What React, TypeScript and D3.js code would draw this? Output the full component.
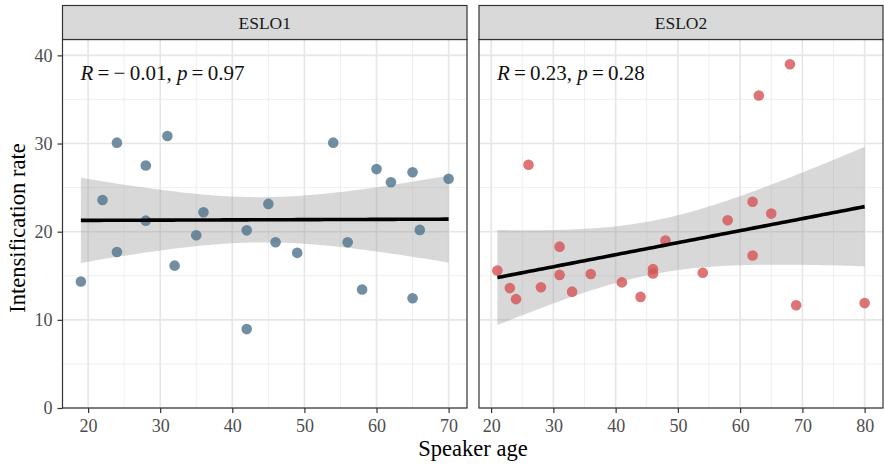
import React, { useEffect, useRef } from "react";
import * as d3 from "d3";

// ESLO1 speakers: age and intensification rate
const eslo1Age = [19, 22, 24, 24, 28, 28, 31, 32, 35, 36, 42, 42, 45, 46, 49, 54, 56, 58, 60, 62, 65, 65, 66, 70];
const eslo1Rate = [14.35, 23.6, 30.1, 17.7, 27.5, 21.25, 30.85, 16.15, 19.6, 22.2, 20.15, 8.95, 23.15, 18.8, 17.6, 30.1, 18.8, 13.45, 27.1, 25.6, 26.75, 12.45, 20.2, 26.0];

// ESLO2 speakers
const eslo2Age = [21, 23, 24, 26, 28, 31, 31, 33, 36, 41, 44, 46, 46, 48, 54, 58, 62, 62, 63, 65, 68, 69, 80];
const eslo2Rate = [15.6, 13.6, 12.35, 27.6, 13.7, 18.3, 15.1, 13.2, 15.2, 14.25, 12.6, 15.75, 15.25, 19.0, 15.35, 21.3, 23.4, 17.3, 35.45, 22.05, 39.0, 11.65, 11.9];

const panels = ["ESLO1", "ESLO2"];
const rLabels = ["\u2009=\u2009\u2212\u20090.01, ", "\u2009=\u20090.23, "];
const pLabels = ["\u2009=\u20090.97", "\u2009=\u20090.28"];
const xTicks = [[20, 30, 40, 50, 60, 70], [20, 30, 40, 50, 60, 70, 80]];
const yTicks = [0, 10, 20, 30, 40];

const serif = "'Liberation Serif', 'Times New Roman', serif";

function tq975(df: number) {
  const z = 1.959964;
  return z + (z ** 3 + z) / (4 * df) + (5 * z ** 5 + 16 * z ** 3 + 3 * z) / (96 * df * df)
    + (3 * z ** 7 + 19 * z ** 5 + 17 * z ** 3 - 15 * z) / (384 * df ** 3);
}

// linear fit with 95% confidence band, like geom_smooth(method = "lm")
function lmFit(xs: number[], ys: number[]) {
  const n = xs.length;
  const mx = d3.mean(xs)!, my = d3.mean(ys)!;
  let sxx = 0, sxy = 0;
  xs.forEach((x, i) => { sxx += (x - mx) ** 2; sxy += (x - mx) * (ys[i] - my); });
  const b = sxy / sxx, a = my - b * mx;
  let sse = 0;
  xs.forEach((x, i) => { sse += (ys[i] - a - b * x) ** 2; });
  const s = Math.sqrt(sse / (n - 2));
  const t = tq975(n - 2);
  const [lo, hi] = d3.extent(xs) as [number, number];
  return d3.range(81).map(k => {
    const x = lo + (hi - lo) * k / 80;
    const fit = a + b * x;
    const se = s * Math.sqrt(1 / n + (x - mx) ** 2 / sxx);
    return { x, fit, lo: fit - t * se, hi: fit + t * se };
  });
}

export default function App() {
  const ref = useRef<SVGSVGElement>(null);

  useEffect(() => {
    const svg = d3.select(ref.current);
    svg.selectAll("*").remove();

    const y = d3.scaleLinear().domain([0, 41.8]).range([408, 39.5]);
    const frames = [
      { x0: 62.5, x1: 467, dom: [16.45, 72.55], ages: eslo1Age, rates: eslo1Rate, color: "#52758f" },
      { x0: 479, x1: 883, dom: [18.05, 82.95], ages: eslo2Age, rates: eslo2Rate, color: "#d65557" },
    ];

    frames.forEach((f, pi) => {
      const x = d3.scaleLinear().domain(f.dom).range([f.x0, f.x1]);
      const g = svg.append("g");
      const top = 39.5;

      g.append("rect").attr("x", f.x0).attr("y", top).attr("width", f.x1 - f.x0).attr("height", 408 - top).attr("fill", "white");

      // minor grid
      const minorX = d3.range(Math.ceil(f.dom[0] / 5) * 5, f.dom[1], 5).filter(v => v % 10 !== 0);
      g.selectAll(".mx").data(minorX).join("line")
        .attr("x1", d => x(d)).attr("x2", d => x(d)).attr("y1", top).attr("y2", 408)
        .attr("stroke", "#ebebeb").attr("stroke-width", 0.8);
      g.selectAll(".my").data([5, 15, 25, 35]).join("line")
        .attr("x1", f.x0).attr("x2", f.x1).attr("y1", d => y(d)).attr("y2", d => y(d))
        .attr("stroke", "#ebebeb").attr("stroke-width", 0.8);
      // major grid
      g.selectAll(".gx").data(xTicks[pi]).join("line")
        .attr("x1", d => x(d)).attr("x2", d => x(d)).attr("y1", top).attr("y2", 408)
        .attr("stroke", "#e6e6e6").attr("stroke-width", 1.6);
      g.selectAll(".gy").data(yTicks).join("line")
        .attr("x1", f.x0).attr("x2", f.x1).attr("y1", d => y(d)).attr("y2", d => y(d))
        .attr("stroke", "#e6e6e6").attr("stroke-width", 1.6);

      // smoother
      const fit = lmFit(f.ages, f.rates);
      g.append("path").datum(fit)
        .attr("d", d3.area<any>().x(d => x(d.x)).y0(d => y(d.lo)).y1(d => y(d.hi)))
        .attr("fill", "#999999").attr("fill-opacity", 0.38);

      // points
      g.selectAll(".pt").data(f.ages.map((a, i) => [a, f.rates[i]])).join("circle")
        .attr("cx", d => x(d[0])).attr("cy", d => y(d[1])).attr("r", 5.3)
        .attr("fill", f.color).attr("fill-opacity", 0.82);

      g.append("path").datum(fit)
        .attr("d", d3.line<any>().x(d => x(d.x)).y(d => y(d.fit)))
        .attr("fill", "none").attr("stroke", "black").attr("stroke-width", 3.6);

      // annotation
      const txt = g.append("text").attr("x", x(f.dom[0]) + 18).attr("y", 80)
        .attr("font-family", serif).attr("font-size", 21).attr("fill", "#111");
      txt.append("tspan").attr("font-style", "italic").text("R");
      txt.append("tspan").text(rLabels[pi]);
      txt.append("tspan").attr("font-style", "italic").text("p");
      txt.append("tspan").text(pLabels[pi]);

      // border
      g.append("rect").attr("x", f.x0).attr("y", top).attr("width", f.x1 - f.x0).attr("height", 408 - top)
        .attr("fill", "none").attr("stroke", "#333333").attr("stroke-width", 1.2);

      // strip
      g.append("rect").attr("x", f.x0).attr("y", 5.5).attr("width", f.x1 - f.x0).attr("height", top - 5.5)
        .attr("fill", "#d9d9d9").attr("stroke", "#333333").attr("stroke-width", 1.2);
      g.append("text").attr("x", (f.x0 + f.x1) / 2).attr("y", 28.5).attr("text-anchor", "middle")
        .attr("font-family", serif).attr("font-size", 17.5).attr("fill", "#1a1a1a").text(panels[pi]);

      // x axis
      const xa = g.append("g").attr("transform", "translate(0,408)")
        .call(d3.axisBottom(x).tickValues(xTicks[pi]).tickSize(5).tickPadding(6));
      xa.select(".domain").remove();
      xa.selectAll("line").attr("stroke", "#333333").attr("stroke-width", 1.2);
      xa.selectAll("text").attr("font-family", serif).attr("font-size", 18).attr("fill", "#4d4d4d");

      if (pi === 0) {
        const ya = g.append("g").attr("transform", `translate(${f.x0},0)`)
          .call(d3.axisLeft(y).tickValues(yTicks).tickSize(5).tickPadding(5));
        ya.select(".domain").remove();
        ya.selectAll("line").attr("stroke", "#333333").attr("stroke-width", 1.2);
        ya.selectAll("text").attr("font-family", serif).attr("font-size", 18).attr("fill", "#4d4d4d");
      }
    });

    svg.append("text").attr("x", 473).attr("y", 456).attr("text-anchor", "middle")
      .attr("font-family", serif).attr("font-size", 22.5).attr("fill", "black").text("Speaker age");
    svg.append("text").attr("transform", "translate(25,228) rotate(-90)").attr("text-anchor", "middle")
      .attr("font-family", serif).attr("font-size", 22.5).attr("fill", "black").text("Intensification rate");
  }, []);

  return (
    <svg ref={ref} width={884} height={465}
      style={{ position: "absolute", left: 0, top: 0, background: "white", display: "block" }} />
  );
}
